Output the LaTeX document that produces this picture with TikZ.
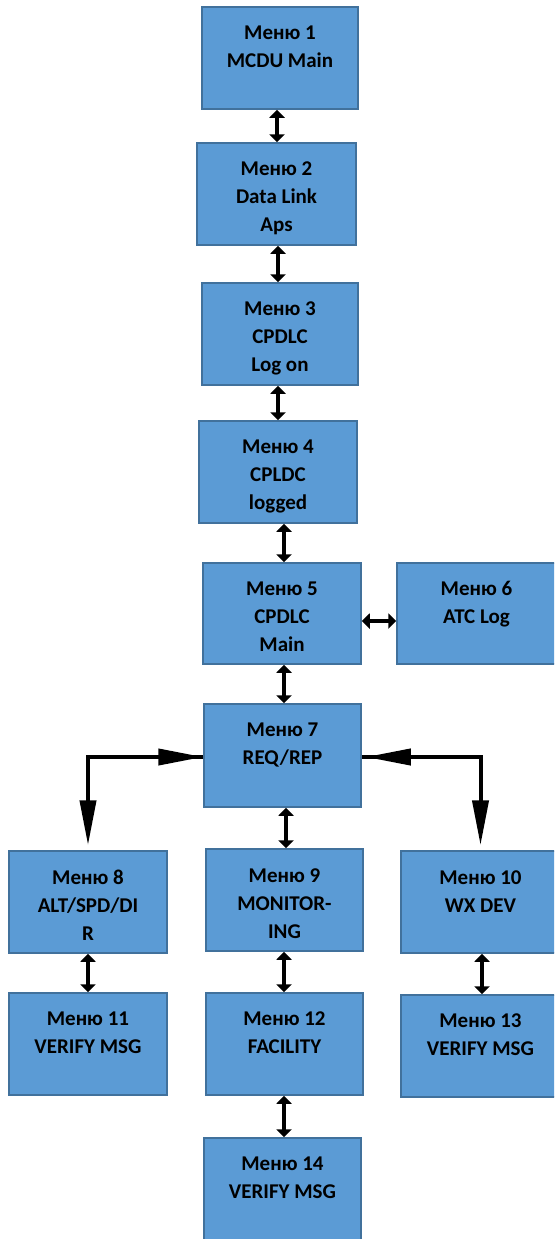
\documentclass[tikz,border=0pt]{standalone}
\usepackage{fontspec}
\setmainfont{Carlito}
\usetikzlibrary{arrows.meta}
\definecolor{boxfill}{HTML}{5B9BD5}
\definecolor{boxline}{HTML}{41719C}
\tikzset{
  menubox/.style={draw=boxline, fill=boxfill, line width=1.5pt, inner sep=0pt, minimum width=157pt, minimum height=102pt},
  menutext/.style={anchor=north, inner sep=0pt, align=center, font=\fontsize{21}{28}\selectfont\bfseries, text=black},
  dbl/.style={line width=4.5pt, {Triangle[width=15pt,length=8pt]}-{Triangle[width=15pt,length=8pt]}},
  bigarr/.style={line width=4pt, -{Triangle[width=16pt,length=45pt]}}
}
\begin{document}
\begin{tikzpicture}[x=1pt,y=-1pt]
\useasboundingbox (0,0) rectangle (554,1239);
\clip (0,0) rectangle (554,1239);
\node[menubox, minimum width=156pt] (m1) at (280,58) {};
\node[menubox, minimum width=159pt] (m2) at (276.5,194) {};
\node[menubox, minimum width=156pt] (m3) at (280,334) {};
\node[menubox, minimum width=158pt] (m4) at (278,472) {};
\node[menubox, minimum width=158pt, minimum height=101pt] (m5) at (282,613.5) {};
\node[menubox, minimum width=159pt, minimum height=101pt] (m6) at (476.5,613.5) {};
\node[menubox, minimum height=103pt] (m7) at (282.5,755.5) {};
\node[menubox, minimum width=158pt] (m8) at (88,902) {};
\node[menubox] (m9) at (284.5,900) {};
\node[menubox, minimum width=159pt] (m10) at (480.5,902) {};
\node[menubox, minimum width=158pt] (m11) at (88,1044) {};
\node[menubox] (m12) at (284.5,1044) {};
\node[menubox, minimum width=159pt] (m13) at (480.5,1046) {};
\node[menubox, minimum height=107pt] (m14) at (282.5,1191.5) {};

\node[menutext] (t1) at ([yshift=-19pt]m1.north) {Меню 1\\MCDU Main};
\node[menutext] (t2) at ([yshift=-19pt]m2.north) {Меню 2\\Data Link\\Aps};
\node[menutext] (t3) at ([yshift=-19pt]m3.north) {Меню 3\\CPDLC\\Log on};
\node[menutext] (t4) at ([yshift=-19pt]m4.north) {Меню 4\\CPLDC\\logged};
\node[menutext] (t5) at ([yshift=-19pt]m5.north) {Меню 5\\CPDLC\\Main};
\node[menutext] (t6) at ([yshift=-19pt]m6.north) {Меню 6\\ATC Log};
\node[menutext] (t7) at ([yshift=-19pt]m7.north) {Меню 7\\REQ/REP};
\node[menutext] (t8) at ([yshift=-20pt]m8.north) {Меню 8\\ALT/SPD/DI\\R};
\node[menutext] (t9) at ([yshift=-20pt]m9.north) {Меню 9\\MONITOR-\\ING};
\node[menutext] (t10) at ([yshift=-20pt]m10.north) {Меню 10\\WX DEV};
\node[menutext] (t11) at ([yshift=-19pt]m11.north) {Меню 11\\VERIFY MSG};
\node[menutext] (t12) at ([yshift=-19pt]m12.north) {Меню 12\\FACILITY};
\node[menutext] (t13) at ([yshift=-19pt]m13.north) {Меню 13\\VERIFY MSG};
\node[menutext] (t14) at ([yshift=-19pt]m14.north) {Меню 14\\VERIFY MSG};

\draw[dbl] ([xshift=-3pt]m1.south) -- ([xshift=0.5pt]m2.north);
\draw[dbl] ([xshift=1.5pt]m2.south) -- ([xshift=-2pt]m3.north);
\draw[dbl] ([xshift=-2pt]m3.south) -- (m4.north);
\draw[dbl] ([xshift=6pt]m4.south) -- ([xshift=2pt]m5.north);
\draw[dbl] ([xshift=2pt]m5.south) -- ([xshift=1.5pt]m7.north);
\draw[dbl] ([yshift=-7.5pt]m5.east) -- ([yshift=-7.5pt]m6.west);
\draw[dbl] ([xshift=3.5pt]m7.south) -- ([xshift=1.5pt]m9.north);
\draw[dbl] (m8.south) -- (m11.north);
\draw[dbl] ([xshift=-0.5pt]m9.south) -- ([xshift=-0.5pt]m12.north);
\draw[dbl] ([xshift=1.5pt]m10.south) -- ([xshift=1.5pt]m13.north);
\draw[dbl] ([xshift=-0.5pt]m12.south) -- ([xshift=1.5pt]m14.north);

\draw[bigarr, shorten >=5pt] ([yshift=-1.5pt]m7.west) -| (m8.north);
\draw[bigarr] (m8.north |- m7.west) ++(0,-1.5pt) -- ([yshift=-1.5pt]m7.west);
\draw[bigarr, shorten >=5pt] ([yshift=-1.5pt]m7.east) -| (m10.north);
\draw[bigarr, shorten >=4pt] ([yshift=-1.5pt]m7.east -| m10.north) -- ([yshift=-1.5pt]m7.east);
\end{tikzpicture}
\end{document}
